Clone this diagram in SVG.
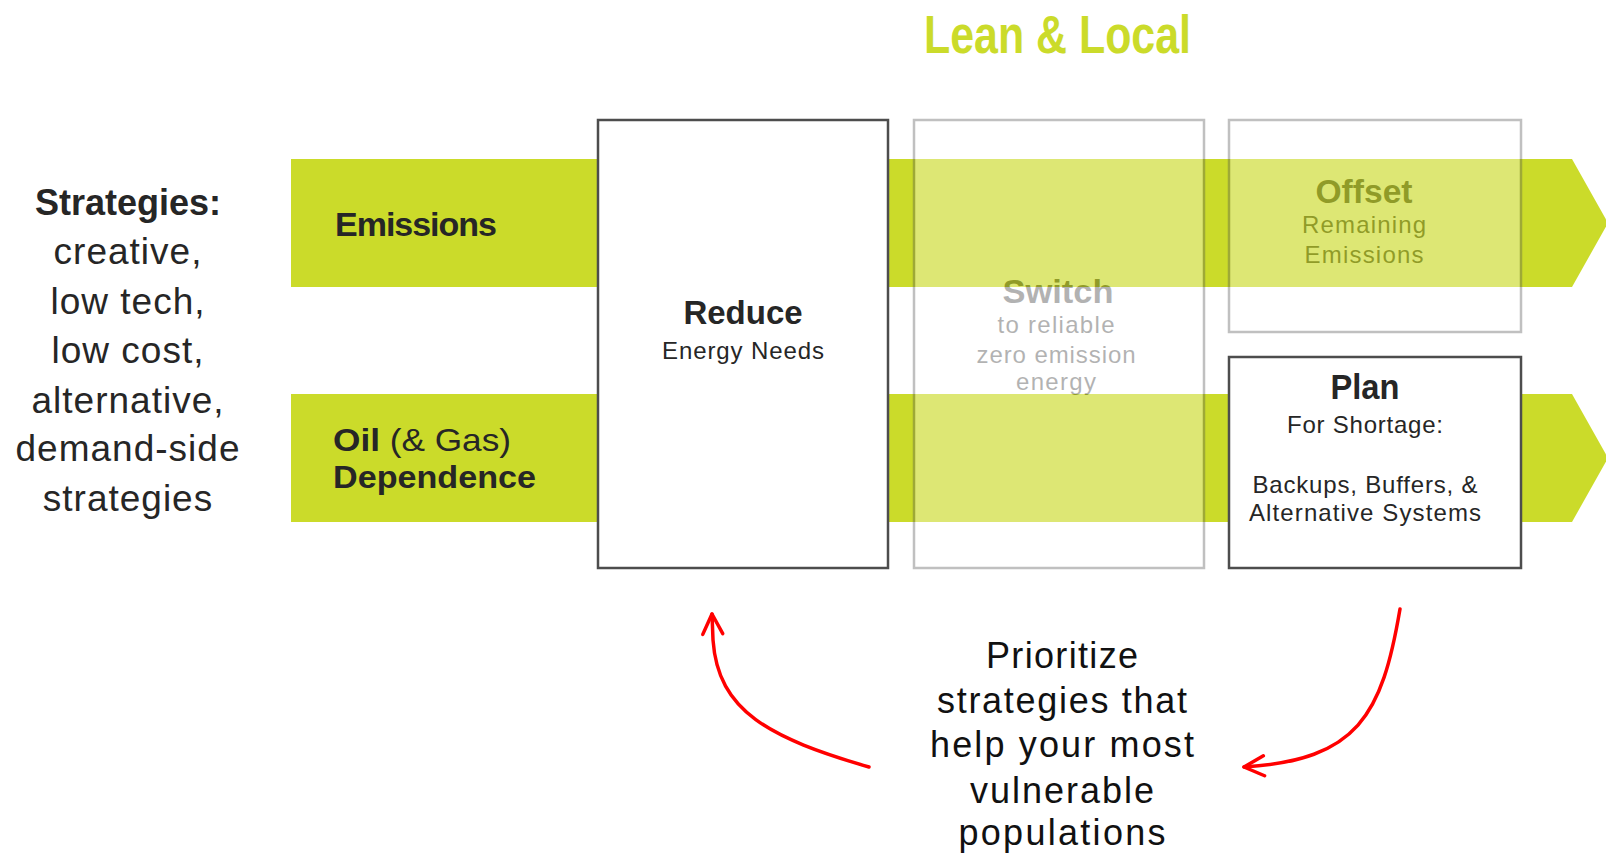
<svg xmlns="http://www.w3.org/2000/svg" width="1606" height="856" viewBox="0 0 1606 856">
<style>
  .sans { font-family: "Liberation Sans", Arial, sans-serif; fill: #262626; }
  .b { font-weight: bold; }
  .band { fill: #cbdb2a; }
  .box { fill: #ffffff; stroke: #4d4d4d; stroke-width: 2.5; }
  .dim { opacity: 0.35; }
  .red { fill: none; stroke: #ff0000; stroke-width: 3.5; stroke-linecap: round; }
</style>
<defs>
  <marker id="ah" viewBox="-24 -14 28 28" refX="0" refY="0" markerWidth="28" markerHeight="28" markerUnits="userSpaceOnUse" orient="auto">
    <path d="M-20,-10 L0,0 L-20,10" fill="none" stroke="#ff0000" stroke-width="3.5" stroke-linecap="round" stroke-linejoin="round"/>
  </marker>
</defs>
<rect x="0" y="0" width="1606" height="856" fill="#ffffff"/>

<g id="title">
  <text x="924" y="53" class="sans b" font-size="53" textLength="267" lengthAdjust="spacingAndGlyphs" style="fill:#cbdb2a">Lean &amp; Local</text>
</g>

<g id="strategies" class="sans" text-anchor="middle">
  <text x="128" y="215" class="sans b" font-size="36">Strategies:</text>
  <text x="128" y="264" font-size="37" letter-spacing="1">creative,</text>
  <text x="128" y="314" font-size="37" letter-spacing="1">low tech,</text>
  <text x="128" y="363" font-size="37" letter-spacing="1">low cost,</text>
  <text x="128" y="413" font-size="37" letter-spacing="1">alternative,</text>
  <text x="128" y="461" font-size="37" letter-spacing="1">demand-side</text>
  <text x="128" y="511" font-size="37" letter-spacing="1">strategies</text>
</g>

<g id="band-emissions">
  <polygon class="band" points="291,159 1572,159 1608,223 1572,287 291,287"/>
  <text x="335" y="236" class="sans b" font-size="34" textLength="162">Emissions</text>
</g>

<g id="band-oil">
  <polygon class="band" points="291,394 1572,394 1608,458 1572,522 291,522"/>
  <text x="333" y="451" class="sans" font-size="32" textLength="178" lengthAdjust="spacingAndGlyphs"><tspan font-weight="bold">Oil</tspan> (&amp; Gas)</text>
  <text x="333" y="488" class="sans b" font-size="32" textLength="203" lengthAdjust="spacingAndGlyphs">Dependence</text>
</g>

<g id="reduce">
  <rect class="box" x="598" y="120" width="290" height="448"/>
  <text x="743" y="324" class="sans b" font-size="33" text-anchor="middle">Reduce</text>
  <text x="743" y="359" class="sans" font-size="24" text-anchor="middle" textLength="162">Energy Needs</text>
</g>

<g id="switch" class="dim">
  <rect class="box" x="914" y="120" width="290" height="448"/>
  <text x="1058" y="303" class="sans b" font-size="33" text-anchor="middle" textLength="111" lengthAdjust="spacingAndGlyphs">Switch</text>
  <text x="1056" y="333" class="sans" font-size="24" text-anchor="middle" textLength="117">to reliable</text>
  <text x="1056" y="363" class="sans" font-size="24" text-anchor="middle" textLength="159">zero emission</text>
  <text x="1056" y="390" class="sans" font-size="24" text-anchor="middle" textLength="80">energy</text>
</g>

<g id="offset" class="dim">
  <rect class="box" x="1229" y="120" width="292" height="212"/>
  <text x="1364" y="203" class="sans b" font-size="33" text-anchor="middle" textLength="97" lengthAdjust="spacingAndGlyphs">Offset</text>
  <text x="1364" y="233" class="sans" font-size="24" text-anchor="middle" textLength="124">Remaining</text>
  <text x="1364" y="263" class="sans" font-size="24" text-anchor="middle" textLength="119">Emissions</text>
</g>

<g id="plan">
  <rect class="box" x="1229" y="357" width="292" height="211"/>
  <text x="1365" y="399" class="sans b" font-size="35" text-anchor="middle" textLength="69" lengthAdjust="spacingAndGlyphs">Plan</text>
  <text x="1365" y="433" class="sans" font-size="24" text-anchor="middle" textLength="156">For Shortage:</text>
  <text x="1365" y="493" class="sans" font-size="24" text-anchor="middle" textLength="225">Backups, Buffers, &amp;</text>
  <text x="1365" y="521" class="sans" font-size="24" text-anchor="middle" textLength="232">Alternative Systems</text>
</g>

<g id="note" class="sans" text-anchor="middle" style="fill:#111">
  <text x="1062" y="668" font-size="36" textLength="152">Prioritize</text>
  <text x="1062" y="713" font-size="36" textLength="250">strategies that</text>
  <text x="1062" y="757" font-size="36" textLength="264">help your most</text>
  <text x="1062" y="803" font-size="36" textLength="184">vulnerable</text>
  <text x="1062" y="845" font-size="36" textLength="207">populations</text>
</g>

<g id="connectors">
  <path class="red" d="M869,767 C770,738 718,712 713,640 L712,614" marker-end="url(#ah)"/>
  <path class="red" d="M1400,609 C1382,715 1358,760 1244,767" marker-end="url(#ah)"/>
</g>
</svg>
